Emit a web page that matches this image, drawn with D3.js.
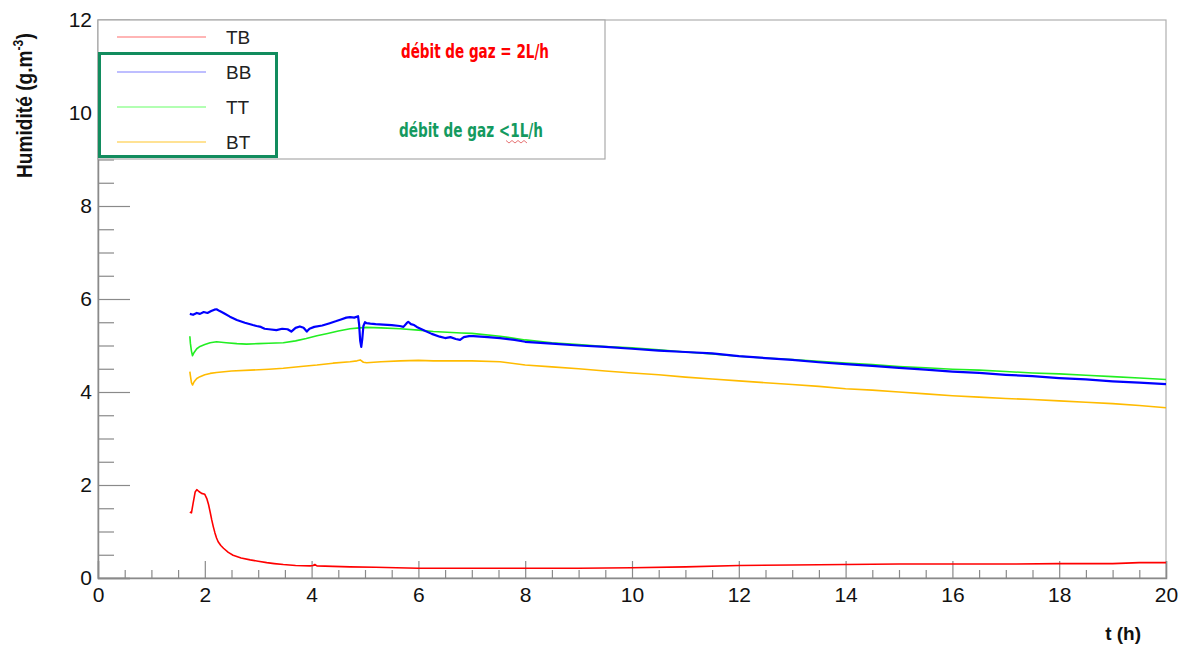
<!DOCTYPE html>
<html><head><meta charset="utf-8">
<script src="https://cdn.jsdelivr.net/npm/d3@7"></script>
<style>body{margin:0;background:#fff}svg{display:block}</style>
</head><body>
<svg id="c" width="1181" height="645"></svg>
<script>
// ---------- data ----------
const xMajorTicks = [0,2,4,6,8,10,12,14,16,18,20];
const yMajorTicks = [0,2,4,6,8,10,12];
const seriesNames = ["TB","BB","TT","BT"];
const seriesColors = ["#ff0000","#0000ff","#22ee22","#ffbb00"];
const legendColors = ["#ff9c9c","#a8a8ff","#99ff99","#ffd870"];

const tbT = [1.72,1.75,1.78,1.82,1.85,1.89,1.94,2.0,2.04,2.07,2.10,2.13,2.16,2.19,2.22,2.25,2.30,2.35,2.44,2.53,2.68,2.85,3.0,3.16,3.3,3.47,3.7,3.97,4.03,4.06,4.1,4.4,4.72,5.2,5.59,6,7,8,9,10,11,12,13,14,15,16,17,18,19,19.5,20];
const tbV = [1.42,1.40,1.60,1.85,1.90,1.86,1.82,1.80,1.70,1.58,1.42,1.25,1.10,0.97,0.86,0.78,0.70,0.64,0.55,0.49,0.43,0.39,0.36,0.33,0.31,0.29,0.27,0.26,0.27,0.29,0.26,0.25,0.24,0.23,0.22,0.21,0.21,0.21,0.21,0.22,0.24,0.27,0.28,0.29,0.30,0.30,0.30,0.31,0.31,0.33,0.33];

const bbT = [1.72,1.78,1.85,1.91,1.98,2.05,2.12,2.18,2.22,2.28,2.35,2.47,2.6,2.75,2.9,2.97,3.05,3.12,3.2,3.34,3.45,3.55,3.62,3.7,3.78,3.85,3.91,3.96,4.05,4.2,4.34,4.45,4.55,4.65,4.72,4.8,4.87,4.89,4.91,4.93,4.95,4.97,5.0,5.03,5.1,5.2,5.34,5.5,5.65,5.72,5.78,5.81,5.86,5.92,5.97,6.1,6.25,6.4,6.5,6.6,6.7,6.78,6.85,6.95,7.03,7.3,7.53,7.8,8,8.5,9,9.5,10,10.5,11,11.5,12,12.5,13,13.5,14,14.5,15,15.5,16,16.5,17,17.5,18,18.5,19,19.5,20];
const bbV = [5.68,5.66,5.70,5.68,5.72,5.70,5.74,5.77,5.78,5.74,5.70,5.62,5.55,5.49,5.44,5.42,5.40,5.36,5.35,5.33,5.36,5.35,5.30,5.38,5.41,5.38,5.30,5.36,5.40,5.43,5.48,5.52,5.56,5.60,5.61,5.60,5.63,5.45,5.10,4.97,5.15,5.42,5.50,5.48,5.47,5.46,5.45,5.44,5.42,5.40,5.48,5.51,5.46,5.44,5.40,5.33,5.25,5.19,5.16,5.18,5.14,5.12,5.18,5.20,5.20,5.18,5.16,5.12,5.08,5.04,5.00,4.97,4.93,4.89,4.86,4.83,4.77,4.73,4.69,4.64,4.60,4.56,4.52,4.48,4.44,4.41,4.37,4.34,4.30,4.27,4.23,4.20,4.17];

const ttT = [1.72,1.73,1.75,1.77,1.80,1.85,1.91,2.0,2.1,2.22,2.4,2.6,2.78,3.0,3.2,3.47,3.7,3.9,4.1,4.3,4.5,4.72,4.9,5.03,5.3,5.66,6.0,6.28,6.8,7.0,7.53,8,8.5,9,9.5,10,10.5,11,11.5,12,12.5,13,13.5,14,14.5,15,15.5,16,16.5,17,17.5,18,18.5,19,19.5,20];
const ttV = [5.20,5.05,4.88,4.78,4.85,4.93,4.98,5.02,5.06,5.08,5.06,5.04,5.03,5.04,5.05,5.06,5.10,5.15,5.21,5.26,5.31,5.36,5.38,5.39,5.38,5.36,5.33,5.30,5.27,5.26,5.20,5.12,5.06,5.02,4.98,4.95,4.91,4.86,4.82,4.77,4.73,4.70,4.66,4.62,4.59,4.55,4.52,4.49,4.47,4.44,4.41,4.39,4.36,4.33,4.30,4.27];

const btT = [1.72,1.73,1.75,1.77,1.80,1.85,1.91,2.0,2.1,2.22,2.5,2.85,3.2,3.47,3.8,4.1,4.4,4.72,4.85,4.91,4.97,5.03,5.3,5.66,6.0,6.28,7.0,7.53,8,8.5,9,9.5,10,10.5,11,11.5,12,12.5,13,13.5,14,14.5,15,15.5,16,16.5,17,17.5,18,18.5,19,19.5,20];
const btV = [4.44,4.35,4.20,4.15,4.22,4.29,4.33,4.37,4.40,4.42,4.45,4.47,4.49,4.51,4.55,4.58,4.62,4.65,4.67,4.69,4.64,4.63,4.65,4.67,4.68,4.67,4.67,4.65,4.58,4.54,4.50,4.45,4.41,4.37,4.32,4.28,4.24,4.20,4.16,4.12,4.07,4.04,4.00,3.96,3.92,3.89,3.86,3.84,3.81,3.78,3.75,3.71,3.66];

const annotRed = "débit de gaz = 2L/h";
const annotGreen = "débit de gaz <1L/h";

// ---------- drawing ----------
const svg = d3.select("#c");
const x = d3.scaleLinear().domain([0,20]).range([98,1166]);
const y = d3.scaleLinear().domain([0,12]).range([578,20]);
const axisCol = "#8a8a8a";
const font = "'Liberation Sans', Arial, sans-serif";

// frame
svg.append("rect").attr("x",x(0)).attr("y",y(12)).attr("width",x(20)-x(0)).attr("height",y(0)-y(12))
  .attr("fill","none").attr("stroke","#b0b0b0").attr("stroke-width",1.2);

// y minor ticks
const yMinor = d3.range(0,12.01,0.5).filter(v=>Math.abs(v%2)>0.01);
svg.append("g").attr("transform",`translate(${x(0)},0)`)
  .call(d3.axisLeft(y).tickValues(yMinor).tickSize(-16).tickFormat(""))
  .call(g=>{g.select(".domain").remove();g.selectAll("line").attr("stroke",axisCol).attr("stroke-width",1.2);});
// y major
svg.append("g").attr("transform",`translate(${x(0)},0)`)
  .call(d3.axisLeft(y).tickValues(yMajorTicks).tickSize(-32).tickPadding(6).tickFormat(d3.format("d")))
  .call(g=>{g.select(".domain").attr("stroke",axisCol).attr("stroke-width",1.5);
    g.selectAll("line").attr("stroke",axisCol).attr("stroke-width",1.2);
    g.selectAll("text").attr("font-family",font).attr("font-size",21).attr("fill","#111");});

// x minor
const xMinor = d3.range(0,20.01,0.5).filter(v=>Math.abs(v%2)>0.01);
svg.append("g").attr("transform",`translate(0,${y(0)})`)
  .call(d3.axisBottom(x).tickValues(xMinor).tickSize(-8).tickFormat(""))
  .call(g=>{g.select(".domain").remove();g.selectAll("line").attr("stroke",axisCol).attr("stroke-width",1.2);});
svg.append("g").attr("transform",`translate(0,${y(0)})`)
  .call(d3.axisBottom(x).tickValues(xMajorTicks).tickSize(-17).tickPadding(9).tickFormat(d3.format("d")))
  .call(g=>{g.select(".domain").attr("stroke",axisCol).attr("stroke-width",1.5);
    g.selectAll("line").attr("stroke",axisCol).attr("stroke-width",1.2);
    g.selectAll("text").attr("font-family",font).attr("font-size",21).attr("fill","#111");});

// series
const series = [[tbT,tbV],[bbT,bbV],[ttT,ttV],[btT,btV]];
const line = d3.line().x(d=>x(d[0])).y(d=>y(d[1]));
[3,2,1,0].forEach(i=>{
  const [ts,vs] = series[i];
  const pts = ts.map((t,k)=>[t,vs[k]]);
  svg.append("path").datum(pts).attr("d",line).attr("fill","none")
    .attr("stroke",seriesColors[i]).attr("stroke-width",i===1?2.2:1.6).attr("stroke-linejoin","round");
});

// legend box
const lg = svg.append("g");
lg.append("rect").attr("x",x(0)).attr("y",y(12)).attr("width",605-x(0)).attr("height",159-y(12))
  .attr("fill","#fff").attr("stroke","#aaaaaa").attr("stroke-width",1.2);
const legendY = [37,72,107,142];
seriesNames.forEach((n,i)=>{
  lg.append("line").attr("x1",117).attr("x2",206).attr("y1",legendY[i]).attr("y2",legendY[i])
    .attr("stroke",legendColors[i]).attr("stroke-width",1.5);
  lg.append("text").attr("x",226).attr("y",legendY[i]).attr("dy","0.36em")
    .attr("font-family",font).attr("font-size",19).attr("fill","#222").text(n);
});
// green highlight box
svg.append("rect").attr("x",99.5).attr("y",53.5).attr("width",177).attr("height",103)
  .attr("fill","none").attr("stroke","#128c5e").attr("stroke-width",3);

// annotations
const nf = "'Liberation Sans Narrow','DejaVu Sans Condensed','Arial Narrow',sans-serif";
svg.append("text").attr("x",401).attr("y",58).attr("font-family",nf).attr("font-weight","bold")
  .attr("font-size",19).attr("fill","#ff0000")
  .attr("textLength",148).attr("lengthAdjust","spacingAndGlyphs").text(annotRed);
svg.append("text").attr("x",399).attr("y",136.5).attr("font-family",nf).attr("font-weight","bold")
  .attr("font-size",19).attr("fill","#149a5f")
  .attr("textLength",144).attr("lengthAdjust","spacingAndGlyphs").text(annotGreen);
// spell-check squiggle
const sq = d3.range(0,8).map(k=>[506+k*3, k%2?143:140.5]);
svg.append("path").attr("d",d3.line()(sq)).attr("fill","none").attr("stroke","#e05050").attr("stroke-width",0.8);

// axis titles
const yt = svg.append("text").attr("transform","translate(32,178) rotate(-90) scale(0.87,1)")
  .attr("font-family",font).attr("font-weight","bold").attr("font-size",22).attr("fill","#111");
yt.append("tspan").text("Humidité (g.m");
yt.append("tspan").attr("dy",-9).attr("font-size",14).text("-3");
yt.append("tspan").attr("dy",9).text(")");

svg.append("text").attr("x",1141).attr("y",640).attr("text-anchor","end")
  .attr("font-family",font).attr("font-weight","bold").attr("font-size",19).attr("fill","#111").text("t (h)");
</script>
</body></html>
